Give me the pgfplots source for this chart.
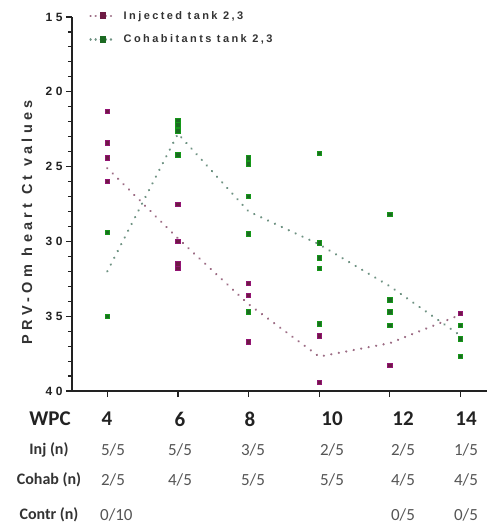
\documentclass[border=0pt]{standalone}
\usepackage{fontspec}
\setmainfont{Liberation Sans}
\newfontfamily\tabfont{Carlito}
\newfontfamily\spfont[LetterSpace=22, UprightFont={Liberation Sans Bold}]{Liberation Sans}
\newfontfamily\lbfont[LetterSpace=30, UprightFont={Liberation Sans Bold}]{Liberation Sans}
\newfontfamily\tkfont[LetterSpace=30, UprightFont={Liberation Sans Bold}]{Liberation Sans}
\usepackage{pgfplots}
\pgfplotsset{compat=1.18}
\definecolor{injc}{HTML}{6E1A44}
\definecolor{injl}{HTML}{9C6C84}
\definecolor{cohc}{HTML}{1C6A22}
\definecolor{cohl}{HTML}{6E9282}
\definecolor{axc}{HTML}{222222}
\definecolor{valc}{HTML}{555555}
\definecolor{labc}{HTML}{333333}
\begin{document}
\begin{tikzpicture}
\useasboundingbox (-72pt,-137pt) rectangle (417pt,391pt);
\begin{axis}[
  scale only axis, width=415pt, height=374pt,
  xmin=3, xmax=14.75, ymin=15, ymax=40, y dir=reverse,
  axis lines*=left, axis line style={axc, line width=1.8pt},
  xtick={4,6,8,10,12,14}, xticklabels={},
  ytick={15,20,25,30,35,40}, minor y tick num=4,
  tick align=outside, major tick style={axc, line width=1.1pt},
  minor tick style={axc, line width=1.1pt},
  major tick length=6pt, minor tick length=4pt,
  /pgf/number format/assume math mode=true,
  yticklabel style={font=\tkfont\fontsize{12}{13}\selectfont, text=axc, xshift=0pt},
  clip=false,
  legend style={at={(axis description cs:0.034,1.027)}, anchor=north west, draw=none, fill=none,
    font=\spfont\fontsize{11}{12}\selectfont, text=labc, row sep=10pt,
    /tikz/every odd column/.append style={column sep=5pt}},
  legend cell align=left,
  legend image code/.code={
    \draw[mark=none] (0pt,0pt) -- (25pt,0pt);
    \draw plot coordinates {(12.5pt,0pt)};
  },
]
\addlegendimage{injl, line width=2.4pt, dash pattern=on 0.1pt off 5pt, line cap=round, mark=square*, mark size=2.2pt, mark options={solid, fill=injc, draw=injc}}
\addlegendentry{Injected tank 2,3}
\addlegendimage{cohl, line width=2.4pt, dash pattern=on 0.1pt off 5pt, line cap=round, mark=square*, mark size=2.2pt, mark options={solid, fill=cohc, draw=cohc}}
\addlegendentry{Cohabitants tank 2,3}
% mean lines
\addplot[forget plot, injl, line width=2.4pt, dash pattern=on 0.1pt off 7.5pt, line cap=round] coordinates {(4,25.1)(6,29.8)(8,34.2)(10,37.7)(12,36.8)(14,34.9)};
\addplot[forget plot, cohl, line width=2.4pt, dash pattern=on 0.1pt off 7.5pt, line cap=round] coordinates {(4,32.0)(6,22.8)(8,28.0)(10,30.2)(12,33.0)(14,36.3)};
% points
\addplot[forget plot, only marks, mark=square*, mark size=2.2pt, mark options={fill=injc, draw=injc!75!magenta, line width=0.6pt}] coordinates {
(4,21.3)(4,23.4)(4,24.4)(4,26.0)
(6,27.5)(6,30.0)(6,31.5)(6,31.8)
(8,32.8)(8,33.6)(8,36.7)
(10,36.3)(10,39.4)
(12,38.3)
(14,34.8)};
\addplot[forget plot, only marks, mark=square*, mark size=2.2pt, mark options={fill=cohc, draw=cohc!70!green, line width=0.6pt}] coordinates {
(4,29.4)(4,35.0)
(6,21.9)(6,22.2)(6,22.6)(6,24.2)
(8,24.4)(8,24.8)(8,27.0)(8,29.5)(8,34.7)
(10,24.1)(10,30.1)(10,31.1)(10,31.8)(10,35.5)
(12,28.2)(12,33.9)(12,34.7)(12,35.6)
(14,35.6)(14,36.5)(14,37.7)};
\end{axis}
% y label
\node[rotate=90, text=labc, font=\lbfont\fontsize{14.5}{15}\selectfont] at (-45pt,169pt) {PRV-Om heart Ct values};
% table
\begin{scope}[every node/.style={font=\tabfont\fontsize{17}{18}\selectfont, text=valc, inner sep=0pt}]
\node[text=axc, font=\tabfont\bfseries\fontsize{21}{22}\selectfont] at (-22pt,-28pt) {WPC};
\node[text=labc, font=\tabfont\bfseries\fontsize{16}{18}\selectfont] at (-23pt,-59pt) {Inj (n)};
\node[text=labc, font=\tabfont\bfseries\fontsize{16}{18}\selectfont] at (-23pt,-89pt) {Cohab (n)};
\node[text=labc, font=\tabfont\bfseries\fontsize{16}{18}\selectfont] at (-23pt,-124pt) {Contr (n)};
\foreach \xx/\t in {35/4,108/6,178/8,260/10,331/12,394/14}
  \node[text=axc, font=\tabfont\bfseries\fontsize{21}{22}\selectfont] at (\xx pt,-28pt) {\t};
\foreach \xx/\t in {41/5\slash 5,108/5\slash 5,181/3\slash 5,260/2\slash 5,331/2\slash 5,394/1\slash 5}
  \node at (\xx pt,-59pt) {\t};
\foreach \xx/\t in {41/2\slash 5,108/4\slash 5,181/5\slash 5,260/5\slash 5,331/4\slash 5,394/4\slash 5}
  \node at (\xx pt,-89pt) {\t};
\node[anchor=west] at (28pt,-124pt) {0/10};
\node at (331pt,-124pt) {0/5};
\node at (394pt,-124pt) {0/5};
\end{scope}
\end{tikzpicture}
\end{document}
